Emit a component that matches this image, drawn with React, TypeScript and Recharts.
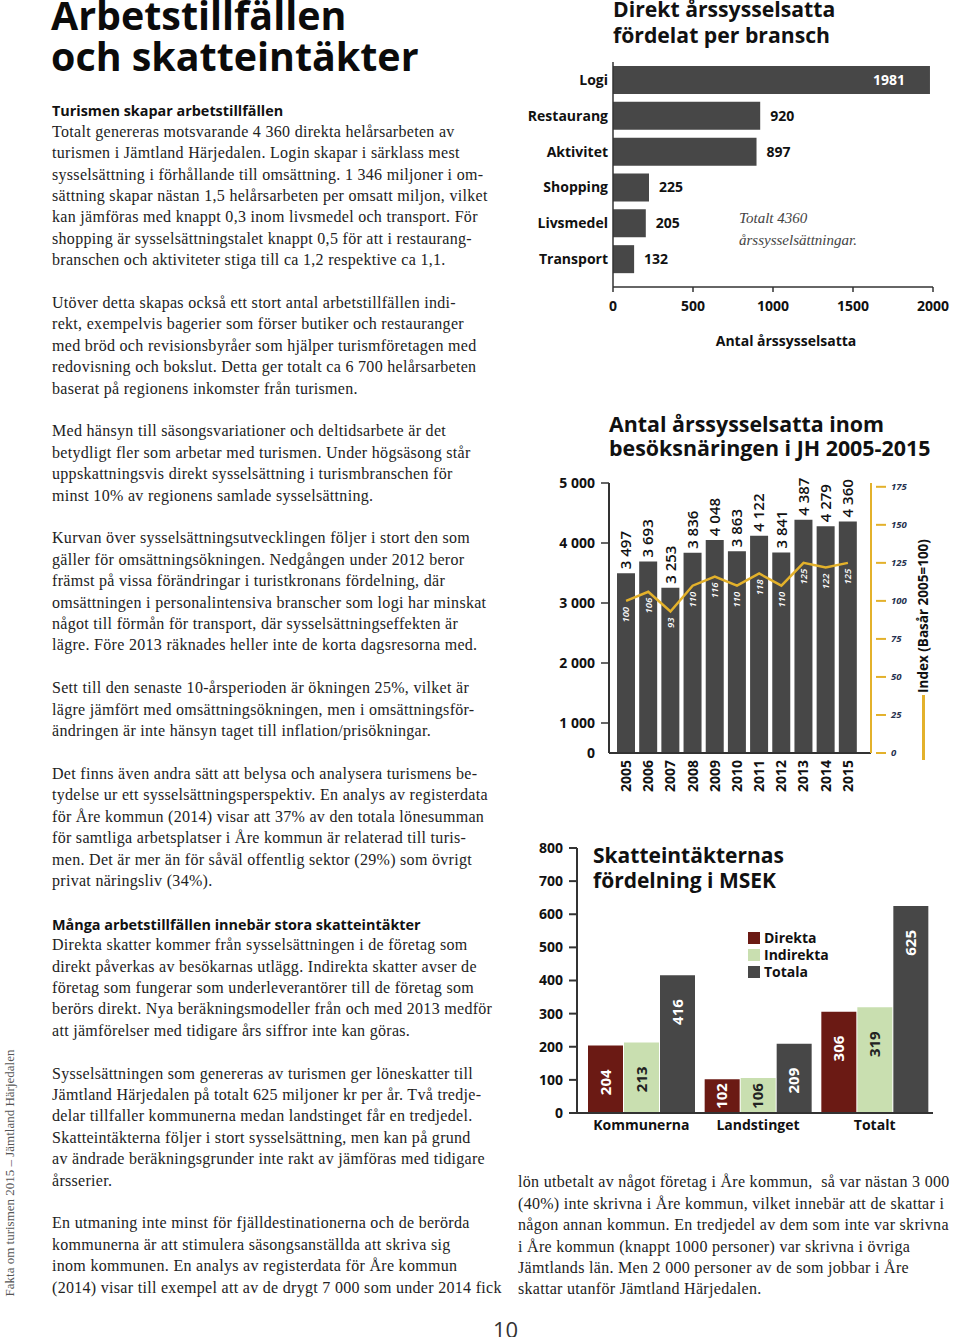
import React from 'react';
import {
  BarChart,
  ComposedChart,
  Bar,
  Line,
  XAxis,
  YAxis,
  LabelList,
  Legend,
} from 'recharts';

// Direkt årssysselsatta per bransch
const branches = ['Logi', 'Restaurang', 'Aktivitet', 'Shopping', 'Livsmedel', 'Transport'];
const branchJobs = [1981, 920, 897, 225, 205, 132];
const branchTicks = [0, 500, 1000, 1500, 2000];

// Årssysselsatta 2005-2015 + index
const years = ['2005', '2006', '2007', '2008', '2009', '2010', '2011', '2012', '2013', '2014', '2015'];
const employed = [3497, 3693, 3253, 3836, 4048, 3863, 4122, 3841, 4387, 4279, 4360];
const indexValues = [100, 106, 93, 110, 116, 110, 118, 110, 125, 122, 125];
// the original axis puts "0" half a step below 1 000
const employedTicks = [500, 1000, 2000, 3000, 4000, 5000];
const indexTicks = [0, 25, 50, 75, 100, 125, 150, 175];

// Skatteintäkter MSEK
const taxGroups = ['Kommunerna', 'Landstinget', 'Totalt'];
const taxDirect = [204, 102, 306];
const taxIndirect = [213, 106, 319];
const taxTotal = [416, 209, 625];
const taxTicks = [0, 100, 200, 300, 400, 500, 600, 700, 800];

const SANS = '"Open Sans", "Noto Sans", sans-serif';
const SERIF = '"Liberation Serif", "DejaVu Serif", serif';
const DARK = '#474747';
const MAROON = '#6b1a14';
const LIGHTGREEN = '#c9dfb0';
const GOLD = '#e3b12b';
const INK = '#111';

const leftColumn: (string | { h: string })[] = [
  { h: 'Turismen skapar arbetstillfällen' },
  'Totalt genereras motsvarande 4 360 direkta helårsarbeten av',
  'turismen i Jämtland Härjedalen. Login skapar i särklass mest',
  'sysselsättning i förhållande till omsättning. 1 346 miljoner i om-',
  'sättning skapar nästan 1,5 helårsarbeten per omsatt miljon, vilket',
  'kan jämföras med knappt 0,3 inom livsmedel och transport. För',
  'shopping är sysselsättningstalet knappt 0,5 för att i restaurang-',
  'branschen och aktiviteter stiga till ca 1,2 respektive ca 1,1.',
  '',
  'Utöver detta skapas också ett stort antal arbetstillfällen indi-',
  'rekt, exempelvis bagerier som förser butiker och restauranger',
  'med bröd och revisionsbyråer som hjälper turismföretagen med',
  'redovisning och bokslut. Detta ger totalt ca 6 700 helårsarbeten',
  'baserat på regionens inkomster från turismen.',
  '',
  'Med hänsyn till säsongsvariationer och deltidsarbete är det',
  'betydligt fler som arbetar med turismen. Under högsäsong står',
  'uppskattningsvis direkt sysselsättning i turismbranschen för',
  'minst 10% av regionens samlade sysselsättning.',
  '',
  'Kurvan över sysselsättningsutvecklingen följer i stort den som',
  'gäller för omsättningsökningen. Nedgången under 2012 beror',
  'främst på vissa förändringar i turistkronans fördelning, där',
  'omsättningen i personalintensiva branscher som logi har minskat',
  'något till förmån för transport, där sysselsättningseffekten är',
  'lägre. Före 2013 räknades heller inte de korta dagsresorna med.',
  '',
  'Sett till den senaste 10-årsperioden är ökningen 25%, vilket är',
  'lägre jämfört med omsättningsökningen, men i omsättningsför-',
  'ändringen är inte hänsyn taget till inflation/prisökningar.',
  '',
  'Det finns även andra sätt att belysa och analysera turismens be-',
  'tydelse ur ett sysselsättningsperspektiv. En analys av registerdata',
  'för Åre kommun (2014) visar att 37% av den totala lönesumman',
  'för samtliga arbetsplatser i Åre kommun är relaterad till turis-',
  'men. Det är mer än för såväl offentlig sektor (29%) som övrigt',
  'privat näringsliv (34%).',
  '',
  { h: 'Många arbetstillfällen innebär stora skatteintäkter' },
  'Direkta skatter kommer från sysselsättningen i de företag som',
  'direkt påverkas av besökarnas utlägg. Indirekta skatter avser de',
  'företag som fungerar som underleverantörer till de företag som',
  'berörs direkt. Nya beräkningsmodeller från och med 2013 medför',
  'att jämförelser med tidigare års siffror inte kan göras.',
  '',
  'Sysselsättningen som genereras av turismen ger löneskatter till',
  'Jämtland Härjedalen på totalt 625 miljoner kr per år. Två tredje-',
  'delar tillfaller kommunerna medan landstinget får en tredjedel.',
  'Skatteintäkterna följer i stort sysselsättning, men kan på grund',
  'av ändrade beräkningsgrunder inte rakt av jämföras med tidigare',
  'årsserier.',
  '',
  'En utmaning inte minst för fjälldestinationerna och de berörda',
  'kommunerna är att stimulera säsongsanställda att skriva sig',
  'inom kommunen. En analys av registerdata för Åre kommun',
  '(2014) visar till exempel att av de drygt 7 000 som under 2014 fick',
];

const rightColumn = [
  'lön utbetalt av något företag i Åre kommun,  så var nästan 3 000',
  '(40%) inte skrivna i Åre kommun, vilket innebär att de skattar i',
  'någon annan kommun. En tredjedel av dem som inte var skrivna',
  'i Åre kommun (knappt 1000 personer) var skrivna i övriga',
  'Jämtlands län. Men 2 000 personer av de som jobbar i Åre',
  'skattar utanför Jämtland Härjedalen.',
];

const LINE_H = 21.42;

const TextColumn = ({ lines, left, top }: { lines: (string | { h: string })[]; left: number; top: number }) => (
  <div style={{ position: 'absolute', left, top }}>
    {lines.map((l, i) =>
      typeof l === 'string' ? (
        <div
          key={i}
          style={{
            height: LINE_H,
            lineHeight: `${LINE_H}px`,
            whiteSpace: 'pre',
            font: `16px ${SERIF}`,
            letterSpacing: 0.3,
            color: '#222',
          }}
        >
          {l}
        </div>
      ) : (
        <div
          key={i}
          style={{
            height: LINE_H,
            lineHeight: `${LINE_H}px`,
            whiteSpace: 'pre',
            font: `700 14.4px ${SANS}`,
            color: INK,
          }}
        >
          {l.h}
        </div>
      )
    )}
  </div>
);

const tickFont = { fill: INK, fontSize: 14, fontWeight: 700, fontFamily: SANS };

const fmtThousands = (v: number) =>
  v >= 1000 ? `${Math.floor(v / 1000)} ${String(v % 1000).padStart(3, '0')}` : String(v);

const renderBranchLabel = (props: any) => {
  const { x, y, width, height, value } = props;
  const inside = value > 1500;
  return (
    <text
      x={inside ? x + width - 25 : x + width + 10}
      y={y + height / 2}
      dy="0.35em"
      textAnchor={inside ? 'end' : 'start'}
      fill={inside ? '#fff' : INK}
      fontSize={14}
      fontWeight={700}
      fontFamily={SANS}
    >
      {value}
    </text>
  );
};

const renderYearTick = (props: any) => {
  const { x, y, payload } = props;
  return (
    <text
      x={x}
      y={y + 7}
      transform={`rotate(-90 ${x} ${y + 7})`}
      dy="0.35em"
      textAnchor="end"
      fill={INK}
      fontSize={14}
      fontWeight={700}
      fontFamily={SANS}
    >
      {payload.value}
    </text>
  );
};

const renderEmployedTick = (props: any) => {
  const { x, y, payload } = props;
  const v = payload.value as number;
  return (
    <g>
      {v !== 500 && <line x1={x - 8} x2={x} y1={y} y2={y} stroke="#333" strokeWidth={1.5} />}
      <text x={x - 14} y={y} dy="0.35em" textAnchor="end" {...tickFont}>
        {v === 500 ? '0' : fmtThousands(v)}
      </text>
    </g>
  );
};

const renderIndexTick = (props: any) => {
  const { x, y, payload } = props;
  return (
    <g>
      <line x1={x + 5} x2={x + 15} y1={y} y2={y} stroke={GOLD} strokeWidth={2} />
      <text
        x={x + 20}
        y={y}
        dy="0.35em"
        fill="#26324f"
        fontSize={9.5}
        fontStyle="italic"
        fontWeight={700}
        fontFamily={SANS}
      >
        {payload.value}
      </text>
    </g>
  );
};

const renderEmployedLabel = (props: any) => {
  const { x, y, width, value } = props;
  const cx = x + width / 2;
  const ay = y - 4;
  return (
    <text
      x={cx}
      y={ay}
      transform={`rotate(-90 ${cx} ${ay})`}
      dy="0.35em"
      textAnchor="start"
      fill={INK}
      fontSize={15}
      fontWeight={600}
      fontFamily={SANS}
    >
      {fmtThousands(value)}
    </text>
  );
};

const renderIndexLabel = (props: any) => {
  const { x, y, value } = props;
  const ay = y + 6;
  return (
    <text
      x={x}
      y={ay}
      transform={`rotate(-90 ${x} ${ay})`}
      dy="0.35em"
      textAnchor="end"
      fill="#fff"
      fontSize={9.5}
      fontStyle="italic"
      fontWeight={600}
      fontFamily={SANS}
    >
      {value}
    </text>
  );
};

const makeTaxLabel = (color: string) => (props: any) => {
  const { x, y, width, height, value } = props;
  const cx = x + width / 2;
  const len = String(value).length * 8.6;
  const ay = Math.min(y + 24, y + height - len - 4);
  return (
    <text
      x={cx}
      y={ay}
      transform={`rotate(-90 ${cx} ${ay})`}
      dy="0.35em"
      textAnchor="end"
      fill={color}
      fontSize={15}
      fontWeight={700}
      fontFamily={SANS}
    >
      {value}
    </text>
  );
};

const renderTaxLegend = (props: any) => (
  <div>
    {(props.payload || []).map((entry: any) => (
      <div key={entry.value} style={{ display: 'flex', alignItems: 'center', height: 17 }}>
        <span style={{ width: 12, height: 12, background: entry.color, marginRight: 4 }} />
        <span style={{ font: `700 14px ${SANS}`, color: INK }}>{entry.value}</span>
      </div>
    ))}
  </div>
);

export default function App() {
  const branchData = branches.map((name, i) => ({ name, jobs: branchJobs[i] }));
  const employmentData = years.map((year, i) => ({
    year,
    employed: employed[i],
    index: indexValues[i],
  }));
  const taxData = taxGroups.map((group, i) => ({
    group,
    direkta: taxDirect[i],
    indirekta: taxIndirect[i],
    totala: taxTotal[i],
  }));

  return (
    <div
      style={{
        position: 'absolute',
        left: 0,
        top: 0,
        width: 960,
        height: 1337,
        overflow: 'hidden',
        background: '#fff',
      }}
    >
      {/* page title */}
      <div
        style={{
          position: 'absolute',
          left: 51,
          top: -5,
          font: `700 39.4px ${SANS}`,
          lineHeight: '41px',
          color: '#0b0b0b',
          whiteSpace: 'nowrap',
        }}
      >
        Arbetstillfällen
        <br />
        och skatteintäkter
      </div>

      <TextColumn lines={leftColumn} left={52} top={101.3} />
      <TextColumn lines={rightColumn} left={518} top={1173.3} />

      {/* side running text */}
      <div
        style={{
          position: 'absolute',
          left: 10,
          top: 1173,
          transform: 'translate(-50%, -50%) rotate(-90deg)',
          whiteSpace: 'nowrap',
          font: `13px ${SERIF}`,
          color: '#555',
        }}
      >
        Fakta om turismen 2015 – Jämtland Härjedalen
      </div>
      <div
        style={{
          position: 'absolute',
          left: 493,
          top: 1314,
          font: `22px ${SANS}`,
          color: '#333',
        }}
      >
        10
      </div>

      {/* chart 1 */}
      <div
        style={{
          position: 'absolute',
          left: 613,
          top: -4.5,
          font: `700 21.2px ${SANS}`,
          lineHeight: '26px',
          color: INK,
          whiteSpace: 'nowrap',
        }}
      >
        Direkt årssysselsatta
        <br />
        fördelat per bransch
      </div>
      <div style={{ position: 'absolute', left: 520, top: 50 }}>
        <BarChart
          width={440}
          height={270}
          data={branchData}
          layout="vertical"
          margin={{ top: 12, right: 27, bottom: 3, left: 0 }}
        >
          <XAxis
            type="number"
            domain={[0, 2000]}
            ticks={branchTicks}
            height={30}
            tickSize={5}
            tickMargin={9}
            stroke="#333"
            strokeWidth={1.5}
            tick={tickFont}
          />
          <YAxis
            type="category"
            dataKey="name"
            width={93}
            interval={0}
            tickLine={false}
            tickSize={0}
            tickMargin={5}
            padding={{ top: 0, bottom: 10 }}
            stroke="#333"
            strokeWidth={1.5}
            tick={tickFont}
          />
          <Bar dataKey="jobs" fill={DARK} barSize={28} isAnimationActive={false}>
            <LabelList dataKey="jobs" content={renderBranchLabel} />
          </Bar>
        </BarChart>
      </div>
      <div
        style={{
          position: 'absolute',
          left: 739,
          top: 207,
          font: `italic 15px ${SERIF}`,
          lineHeight: '22px',
          color: '#444',
          whiteSpace: 'nowrap',
        }}
      >
        Totalt 4360
        <br />
        årssysselsättningar.
      </div>
      <div
        style={{
          position: 'absolute',
          left: 686,
          width: 200,
          top: 331,
          textAlign: 'center',
          font: `700 14px ${SANS}`,
          lineHeight: '20px',
          color: INK,
        }}
      >
        Antal årssysselsatta
      </div>

      {/* chart 2 */}
      <div
        style={{
          position: 'absolute',
          left: 609,
          top: 411.5,
          font: `700 21.4px ${SANS}`,
          lineHeight: '24px',
          color: INK,
          whiteSpace: 'nowrap',
        }}
      >
        Antal årssysselsatta inom
        <br />
        besöksnäringen i JH 2005-2015
      </div>
      <div style={{ position: 'absolute', left: 540, top: 470 }}>
        <ComposedChart
          width={420}
          height={340}
          data={employmentData}
          margin={{ top: 13, right: 0, bottom: 0, left: 0 }}
        >
          <XAxis
            dataKey="year"
            height={57}
            interval={0}
            tickLine={false}
            tickSize={0}
            tickMargin={0}
            padding={{ left: 6, right: 12 }}
            stroke="#333"
            strokeWidth={2}
            tick={renderYearTick}
          />
          <YAxis
            yAxisId="left"
            width={69}
            domain={[500, 5000]}
            allowDataOverflow
            ticks={employedTicks}
            interval={0}
            tickLine={false}
            tickSize={0}
            tickMargin={0}
            stroke="#333"
            strokeWidth={2}
            tick={renderEmployedTick}
          />
          <YAxis
            yAxisId="right"
            orientation="right"
            width={89}
            domain={[0, 177.5]}
            ticks={indexTicks}
            interval={0}
            tickLine={false}
            tickSize={0}
            tickMargin={0}
            axisLine={{ stroke: GOLD, strokeWidth: 2 }}
            tick={renderIndexTick}
          />
          <Bar yAxisId="left" dataKey="employed" fill={DARK} barSize={18} isAnimationActive={false}>
            <LabelList dataKey="employed" content={renderEmployedLabel} />
          </Bar>
          <Line
            yAxisId="right"
            type="linear"
            dataKey="index"
            stroke={GOLD}
            strokeWidth={2.5}
            dot={false}
            isAnimationActive={false}
          >
            <LabelList dataKey="index" content={renderIndexLabel} />
          </Line>
        </ComposedChart>
      </div>
      <div
        style={{
          position: 'absolute',
          left: 923,
          top: 615.5,
          transform: 'translate(-50%, -50%) rotate(-90deg)',
          whiteSpace: 'nowrap',
          font: `700 13.5px ${SANS}`,
          color: INK,
        }}
      >
        Index (Basår 2005=100)
      </div>
      <div
        style={{
          position: 'absolute',
          left: 922,
          top: 695,
          width: 2.5,
          height: 65,
          background: GOLD,
        }}
      />

      {/* chart 3 */}
      <div style={{ position: 'absolute', left: 520, top: 835 }}>
        <BarChart
          width={440}
          height={310}
          data={taxData}
          margin={{ top: 13, right: 27, bottom: 0, left: 0 }}
          barGap={1}
        >
          <XAxis
            dataKey="group"
            height={32}
            interval={0}
            tickLine={false}
            tickSize={0}
            tickMargin={7}
            padding={{ left: 6, right: 0 }}
            stroke="#333"
            strokeWidth={2}
            tick={tickFont}
          />
          <YAxis
            width={57}
            domain={[0, 800]}
            ticks={taxTicks}
            interval={0}
            tickSize={8}
            tickMargin={6}
            stroke="#333"
            strokeWidth={2}
            tick={tickFont}
          />
          <Legend
            layout="vertical"
            align="center"
            verticalAlign="middle"
            content={renderTaxLegend}
            wrapperStyle={{ left: 228, top: 94, width: 'auto' }}
          />
          <Bar dataKey="direkta" name="Direkta" fill={MAROON} barSize={35} isAnimationActive={false}>
            <LabelList dataKey="direkta" content={makeTaxLabel('#fff')} />
          </Bar>
          <Bar dataKey="indirekta" name="Indirekta" fill={LIGHTGREEN} barSize={35} isAnimationActive={false}>
            <LabelList dataKey="indirekta" content={makeTaxLabel('#222')} />
          </Bar>
          <Bar dataKey="totala" name="Totala" fill={DARK} barSize={35} isAnimationActive={false}>
            <LabelList dataKey="totala" content={makeTaxLabel('#fff')} />
          </Bar>
        </BarChart>
      </div>
      <div
        style={{
          position: 'absolute',
          left: 593,
          top: 842.7,
          font: `700 21px ${SANS}`,
          lineHeight: '25px',
          color: INK,
          whiteSpace: 'nowrap',
        }}
      >
        Skatteintäkternas
        <br />
        fördelning i MSEK
      </div>
    </div>
  );
}
